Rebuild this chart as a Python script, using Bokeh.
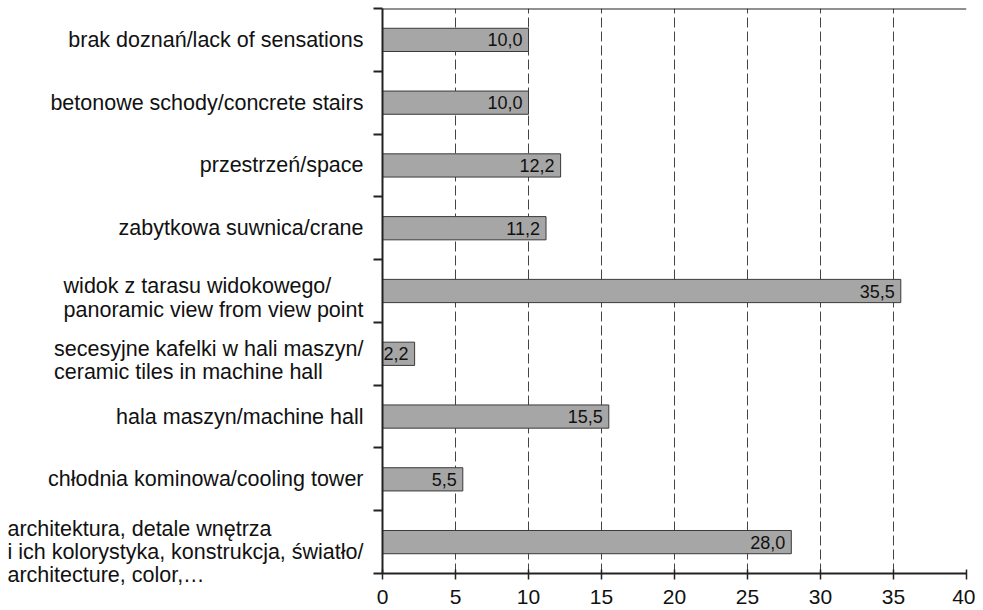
from bokeh.plotting import figure
from bokeh.layouts import row
from bokeh.models import Range1d, FixedTicker, ColumnDataSource, LabelSet, Span
from bokeh.core.properties import value
from bokeh.embed import file_html
from bokeh.resources import INLINE

# ---- data (top to bottom) ----
categories = [
    "brak doznań/lack of sensations",
    "betonowe schody/concrete stairs",
    "przestrzeń/space",
    "zabytkowa suwnica/crane",
    "widok z tarasu widokowego/\npanoramic view from view point",
    "secesyjne kafelki w hali maszyn/\nceramic tiles in machine hall",
    "hala maszyn/machine hall",
    "chłodnia kominowa/cooling tower",
    "architektura, detale wnętrza\ni ich kolorystyka, konstrukcja, światło/\narchitecture, color,…",
]
values = [10.0, 10.0, 12.2, 11.2, 35.5, 2.2, 15.5, 5.5, 28.0]
x_ticks = [0, 5, 10, 15, 20, 25, 30, 35, 40]

n = len(categories)
ys = [n - i - 0.5 for i in range(n)]
labels = [f"{v:.1f}".replace(".", ",") for v in values]
# multi-line category labels sit a little lower than the bar centre
yoff = [0 if c.count("\n") == 0 else 4 + 3 * c.count("\n") for c in categories]
src = ColumnDataSource(dict(y=ys, value=values, label=labels, cat=categories,
                            xr=[1] * n, yoff=yoff))

FONT = "Liberation Sans"
FRAME_H = 565
EXTRA = 36  # extra room below the left label panel so the last label is not clipped

# ---- left panel holding the category labels ----
left = figure(
    width=364, frame_height=FRAME_H + EXTRA, x_range=Range1d(0, 1),
    y_range=Range1d(-EXTRA * n / FRAME_H, n),
    output_backend="svg", toolbar_location=None,
    x_axis_location=None, y_axis_location=None,
    min_border_left=0, min_border_right=0, min_border_top=8, min_border_bottom=0,
)
left.outline_line_color = None
left.xgrid.grid_line_color = None
left.ygrid.grid_line_color = None
left.text(x="xr", y="y", text="cat", source=src, x_offset=-1, y_offset="yoff",
          anchor=value("center_right"), text_align="left",
          text_font=value(FONT), text_font_size="21.5px", text_color="#111111",
          text_line_height=0.97)

# ---- main bar chart ----
p = figure(
    frame_width=584, frame_height=FRAME_H,
    x_range=Range1d(0, 40), y_range=Range1d(0, n),
    output_backend="svg", toolbar_location=None,
    min_border_left=18, min_border_right=9, min_border_top=8, min_border_bottom=20,
)
p.outline_line_color = None
p.background_fill_color = "white"

p.hbar(y="y", left=0, right="value", height=0.37, source=src,
       fill_color="#a6a6a6", line_color="#3a3a3a", line_width=1)

p.add_layout(LabelSet(x="value", y="y", text="label", source=src,
                      x_offset=-6, text_align="right", text_baseline="middle",
                      text_font=value(FONT), text_font_size="18px", text_color="#111111"))

p.add_layout(Span(location=n, dimension="width", line_color="#222222", line_width=2))

# x axis
p.xaxis.ticker = FixedTicker(ticks=x_ticks)
p.xaxis.major_label_text_font = FONT
p.xaxis.major_label_text_font_size = "21px"
p.xaxis.major_label_text_color = "#111111"
p.xaxis.major_tick_in = 4
p.xaxis.major_tick_out = 6
p.xaxis.major_tick_line_color = "#222222"
p.xaxis.major_tick_line_width = 1.5
p.xaxis.minor_tick_line_color = None
p.xaxis.axis_line_color = "#222222"
p.xaxis.axis_line_width = 2
p.xaxis.major_label_standoff = 10

p.xgrid.ticker = FixedTicker(ticks=x_ticks[1:])
p.xgrid.grid_line_color = "#444444"
p.xgrid.grid_line_dash = "10 4"
p.xgrid.grid_line_width = 1
p.ygrid.grid_line_color = None

# y axis: ticks at category boundaries only
p.yaxis.ticker = FixedTicker(ticks=[], minor_ticks=list(range(n + 1)))
p.yaxis.major_label_text_font_size = "0px"
p.yaxis.major_label_standoff = 0
p.yaxis.major_tick_in = 0
p.yaxis.major_tick_out = 0
p.yaxis.minor_tick_in = 0
p.yaxis.minor_tick_out = 9
p.yaxis.minor_tick_line_color = "#222222"
p.yaxis.minor_tick_line_width = 2
p.yaxis.axis_line_color = "#222222"
p.yaxis.axis_line_width = 2

layout = row(left, p, spacing=0)
open("out.html", "w").write(file_html(layout, INLINE))
